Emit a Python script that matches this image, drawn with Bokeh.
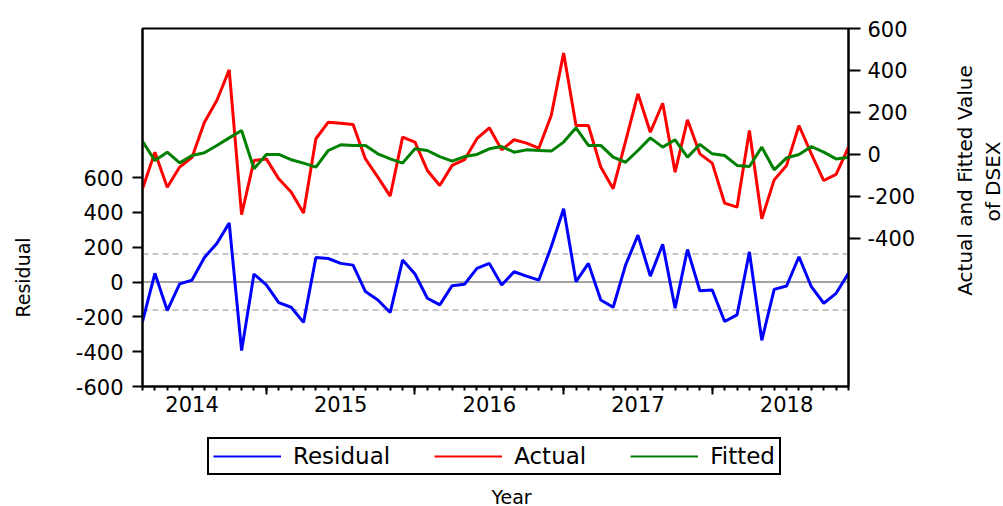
from math import pi
from bokeh.plotting import figure
from bokeh.layouts import column, row
from bokeh.models import (Range1d, LinearAxis, FixedTicker, Span, Legend,
                          LegendItem, Label, ColumnDataSource)
from bokeh.embed import file_html
from bokeh.resources import INLINE

# ---------------- data (monthly, 2014M03 - 2018M12) ----------------
months = [f"{y}-{m:02d}" for y in range(2014, 2019) for m in range(1, 13)][2:]
years = ["2014", "2015", "2016", "2017", "2018"]

actual = [-163, 11, -156, -60, -13, 154, 257, 403, -287, -29,
          -21, -116, -179, -279, 75, 154, 149, 143, -21, -108,
          -198, 83, 59, -76, -148, -52, -25, 75, 127, 22,
          70, 54, 30, 186, 483, 138, 138, -60, -163, 62,
          289, 106, 244, -84, 165, 3, -41, -232, -251, 114,
          -306, -121, -52, 138, 3, -124, -95, 35]

fitted = [63, -29, 11, -40, -5, 8, 43, 79, 114, -68,
          0, 0, -25, -41, -60, 19, 46, 43, 43, 3,
          -21, -41, 27, 19, -10, -32, -10, 0, 27, 38,
          11, 22, 19, 16, 59, 127, 43, 43, -13, -37,
          19, 79, 35, 70, -13, 48, 3, -5, -52, -57,
          35, -73, -16, 0, 38, 11, -21, -13]

residual = [-227, 50, -164, -11, 11, 141, 221, 339, -394, 46,
            -17, -118, -145, -232, 141, 135, 107, 97, -55, -103,
            -175, 126, 46, -93, -131, -21, -13, 78, 107, -17,
            59, 34, 11, 202, 421, 2, 107, -103, -145, 97,
            269, 34, 217, -150, 187, -50, -46, -227, -189, 173,
            -335, -42, -23, 145, -27, -122, -65, 50]

resid_ticks = [-600, -400, -200, 0, 200, 400, 600]
af_ticks = [-400, -200, 0, 200, 400, 600]
resid_band = 161  # +/- band shown as dashed lines
series_names = ["Residual", "Actual", "Fitted"]
series_colors = ["#0000ff", "#ff0000", "#008000"]

x = list(range(len(months)))
src = ColumnDataSource(dict(x=x, actual=actual, fitted=fitted, residual=residual))

year_pos = [months.index(f"{y}-07") for y in years]
jan_pos = [months.index(f"{y}-01") for y in years if f"{y}-01" in months]

FONT = "DejaVu Sans"
TICK_FS = "21px"
LW = 3

# page geometry (pixels)
W0, W1, W3 = 40, 903, 60          # left title strip, main plot, right title strip
H1, H2 = 426, 80                  # main plot, legend strip
BL, BR, BT, BB = 102, 95, 28, 40  # main plot borders -> frame x 142..848, y 28..386


def strip(width, height, xr, yr, **borders):
    f = figure(width=width, height=height, output_backend="svg", toolbar_location=None,
               x_range=xr, y_range=yr, x_axis_type=None, y_axis_type=None,
               min_border_left=borders.get("left", 0), min_border_right=borders.get("right", 0),
               min_border_top=borders.get("top", 0), min_border_bottom=borders.get("bottom", 0))
    f.outline_line_color = None
    f.background_fill_color = "white"
    f.border_fill_color = "white"
    return f


# ---------------- main plot ----------------
p = figure(width=W1, height=H1, output_backend="svg", toolbar_location=None,
           x_range=Range1d(0, len(months) - 1), y_range=Range1d(-600, 1455.7),
           x_axis_type=None, y_axis_type=None,
           min_border_left=BL, min_border_right=BR, min_border_top=BT,
           min_border_bottom=BB)
p.extra_y_ranges = {"af": Range1d(-1105, 600)}
p.outline_line_color = "black"
p.outline_line_width = 2
p.outline_line_alpha = 1
p.background_fill_color = "white"
p.border_fill_color = "white"

yl = LinearAxis(ticker=FixedTicker(ticks=resid_ticks, minor_ticks=[]),
                major_tick_out=10, major_tick_in=0, minor_tick_out=0, minor_tick_in=0,
                axis_line_width=2, major_tick_line_width=2,
                major_label_text_font=FONT, major_label_text_font_size=TICK_FS,
                major_label_standoff=9, major_label_text_color="black",
                major_label_overrides={t: str(t) for t in resid_ticks})
p.add_layout(yl, "left")

yr = LinearAxis(y_range_name="af", ticker=FixedTicker(ticks=af_ticks, minor_ticks=[]),
                major_tick_out=12, major_tick_in=0, minor_tick_out=0, minor_tick_in=0,
                axis_line_width=2, major_tick_line_width=2,
                major_label_text_font=FONT, major_label_text_font_size=TICK_FS,
                major_label_standoff=7, major_label_text_color="black",
                major_label_overrides={t: str(t) for t in af_ticks})
p.add_layout(yr, "right")

xa = LinearAxis(ticker=FixedTicker(ticks=jan_pos, minor_ticks=x),
                major_tick_out=8, major_tick_in=0, minor_tick_out=4, minor_tick_in=0,
                axis_line_width=2, major_tick_line_width=2, minor_tick_line_width=2,
                major_label_text_alpha=0, major_label_text_font_size="1px",
                major_label_standoff=0,
                major_label_overrides={j: "" for j in jan_pos})
p.add_layout(xa, "below")

xb = LinearAxis(ticker=FixedTicker(ticks=year_pos, minor_ticks=[]),
                major_tick_out=0, major_tick_in=0, minor_tick_out=0, minor_tick_in=0,
                axis_line_color=None, major_tick_line_color=None, minor_tick_line_color=None,
                major_label_text_font=FONT, major_label_text_font_size=TICK_FS,
                major_label_standoff=1, major_label_text_color="black",
                major_label_overrides={pos: y for pos, y in zip(year_pos, years)})
p.add_layout(xb, "below")

for loc, dash, col in [(0, "solid", "#444444"), (resid_band, "6 4", "#8c8c8c"),
                       (-resid_band, "6 4", "#8c8c8c")]:
    p.add_layout(Span(location=loc, dimension="width", line_color=col,
                      line_width=1, line_dash=dash, level="underlay"))

p.line("x", "residual", source=src, line_color=series_colors[0], line_width=LW)
p.line("x", "actual", source=src, line_color=series_colors[1], line_width=LW,
       y_range_name="af")
p.line("x", "fitted", source=src, line_color=series_colors[2], line_width=LW,
       y_range_name="af")

# ---------------- left title strip ----------------
p0 = strip(W0, H1, Range1d(0, W0), Range1d(H1 - BB, BT), top=BT, bottom=BB)
p0.add_layout(Label(x=22.5, y=277, text="Residual", angle=pi / 2,
                    text_align="center", text_baseline="middle",
                    text_font=FONT, text_font_size="19px", text_color="black"))

# ---------------- right title strip ----------------
x3 = W0 + W1
p3 = strip(W3, H1, Range1d(x3, x3 + W3), Range1d(H1 - BB, BT), top=BT, bottom=BB)
p3.add_layout(Label(x=964.5, y=180, text="Actual and Fitted Value", angle=pi / 2,
                    text_align="center", text_baseline="middle",
                    text_font=FONT, text_font_size="20px", text_color="black"))
p3.add_layout(Label(x=992, y=181, text="of DSEX", angle=pi / 2,
                    text_align="center", text_baseline="middle",
                    text_font=FONT, text_font_size="20px", text_color="black"))

# ---------------- legend strip + x title ----------------
fl, fr = W0 + BL, W0 + W1 - BR
p2 = strip(W1, H2, Range1d(fl, fr), Range1d(H2, 0), left=BL, right=BR)

items = []
for name, col in zip(series_names, series_colors):
    r = p2.line(x=[fl], y=[0], line_color=col, line_width=2)
    items.append(LegendItem(label=name, renderers=[r]))

legend = Legend(items=items, orientation="horizontal", location=(207 - fl, 31),
                glyph_width=68, glyph_height=20, label_standoff=12, spacing=44,
                padding=4, margin=0, border_line_color="black", border_line_width=2,
                border_line_alpha=1, label_text_font=FONT, label_text_font_size="23px",
                label_text_color="black", background_fill_alpha=1)
p2.add_layout(legend, "center")

p2.add_layout(Label(x=511, y=70, text="Year", text_align="center",
                    text_baseline="middle", text_font=FONT, text_font_size="19px",
                    text_color="black"))

layout = row(p0, column(p, p2, spacing=0), p3, spacing=0)
open("out.html", "w").write(file_html(layout, INLINE))
